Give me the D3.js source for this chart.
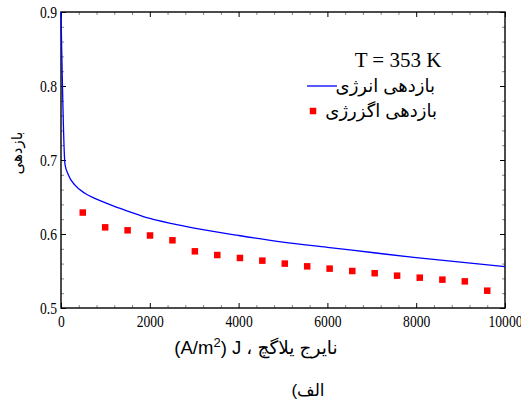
<!DOCTYPE html>
<html>
<head>
<meta charset="utf-8">
<script src="https://cdn.jsdelivr.net/npm/d3@7"></script>
<style>
  body { margin: 0; background: #fff; }
  svg { display: block; }
  .serif { font-family: "Liberation Serif", "Times New Roman", "DejaVu Serif", serif; }
  .fa { font-family: "Liberation Sans", Arial, "DejaVu Sans", sans-serif; }
</style>
</head>
<body>
<div class="container"></div>
<script>
// بازدهی انرژی - خط پیوسته (J, efficiency)
const energyJ = [0, 90, 164, 315, 540, 840, 1216, 1500, 2000, 2500, 3000, 4000, 5000, 6000, 7000, 8000, 9000, 10000];
const energyEff = [0.9, 0.694, 0.680, 0.666, 0.655, 0.646, 0.637, 0.631, 0.621, 0.614, 0.608, 0.598, 0.589, 0.582, 0.575, 0.568, 0.562, 0.556];

// بازدهی اگزرژی - نقاط
const exergyJ = [490, 995, 1500, 2005, 2510, 3015, 3520, 4030, 4535, 5040, 5545, 6050, 6560, 7065, 7570, 8080, 8590, 9095, 9600];
const exergyEff = [0.629, 0.609, 0.605, 0.598, 0.5915, 0.5766, 0.5716, 0.5676, 0.564, 0.560, 0.5563, 0.5532, 0.550, 0.547, 0.5437, 0.541, 0.5383, 0.536, 0.5234];

const xTicks = [0, 2000, 4000, 6000, 8000, 10000];
const yTicks = [0.5, 0.6, 0.7, 0.8, 0.9];

const width = 521, height = 403;
const mLeft = 61, mRight = 505, mTop = 12, mBottom = 308;

const svg = d3.select(".container")
    .append("svg")
    .attr("width", width)
    .attr("height", height);

const x = d3.scaleLinear().domain([0, 10000]).range([mLeft, mRight]);
const y = d3.scaleLinear().domain([0.5, 0.9]).range([mBottom, mTop]);

// ticks فرعی
const xMinor = d3.range(0, 10001, 400).filter(v => v % 2000 !== 0);
const yMinor = d3.range(0.5, 0.9001, 0.02).filter(v => Math.abs(v * 10 - Math.round(v * 10)) > 1e-6);

function styleAxis(g) {
    g.select(".domain").remove();
    g.selectAll(".tick line").attr("stroke", "#000").attr("stroke-width", 1);
}

// محور پایین
const gx = svg.append("g")
    .attr("transform", `translate(0,${mBottom})`)
    .call(d3.axisBottom(x).tickValues(xTicks).tickFormat(d3.format("d")).tickSizeInner(-5).tickSizeOuter(0).tickPadding(8))
    .call(styleAxis)
    .attr("font-family", null);
gx.selectAll("text")
    .attr("class", "serif")
    .attr("font-size", 16)
    .attr("fill", "#000")
    .attr("transform", "scale(0.85,1)");

// محور چپ
const gy = svg.append("g")
    .attr("transform", `translate(${mLeft},0)`)
    .call(d3.axisLeft(y).tickValues(yTicks).tickFormat(d3.format(".1f")).tickSizeInner(-5).tickSizeOuter(0).tickPadding(4))
    .call(styleAxis)
    .attr("font-family", null);
gy.selectAll("text")
    .attr("class", "serif")
    .attr("font-size", 16)
    .attr("fill", "#000")
    .attr("x", -4 / 0.85)
    .attr("transform", "scale(0.85,1)");

// محور بالا و راست (بدون برچسب)
svg.append("g")
    .attr("transform", `translate(0,${mTop})`)
    .call(d3.axisTop(x).tickValues(xTicks).tickFormat("").tickSizeInner(-5).tickSizeOuter(0))
    .call(styleAxis);
svg.append("g")
    .attr("transform", `translate(${mRight},0)`)
    .call(d3.axisRight(y).tickValues(yTicks).tickFormat("").tickSizeInner(-5).tickSizeOuter(0))
    .call(styleAxis);

// ticks فرعی روی چهار طرف
[[d3.axisBottom, mBottom], [d3.axisTop, mTop]].forEach(([ax, pos]) => {
    svg.append("g")
        .attr("transform", `translate(0,${pos})`)
        .call(ax(x).tickValues(xMinor).tickFormat("").tickSizeInner(-3).tickSizeOuter(0))
        .call(g => g.select(".domain").remove())
        .selectAll("line").attr("stroke", "#888");
});
[[d3.axisLeft, mLeft], [d3.axisRight, mRight]].forEach(([ax, pos]) => {
    svg.append("g")
        .attr("transform", `translate(${pos},0)`)
        .call(ax(y).tickValues(yMinor).tickFormat("").tickSizeInner(-3).tickSizeOuter(0))
        .call(g => g.select(".domain").remove())
        .selectAll("line").attr("stroke", "#888");
});

// قاب
svg.append("rect")
    .attr("x", mLeft)
    .attr("y", mTop)
    .attr("width", mRight - mLeft)
    .attr("height", mBottom - mTop)
    .attr("fill", "none")
    .attr("stroke", "#000")
    .attr("stroke-width", 1.4);

// خط بازدهی انرژی
const line = d3.line()
    .x((d, i) => x(energyJ[i]))
    .y(d => y(d))
    .curve(d3.curveMonotoneX);

svg.append("path")
    .datum(energyEff)
    .attr("d", line)
    .attr("fill", "none")
    .attr("stroke", "#0000ff")
    .attr("stroke-width", 1.3);

// نقاط بازدهی اگزرژی
const sq = 6.5;
svg.append("g")
    .selectAll("rect")
    .data(exergyEff)
    .join("rect")
    .attr("x", (d, i) => x(exergyJ[i]) - sq / 2)
    .attr("y", d => y(d) - sq / 2)
    .attr("width", sq)
    .attr("height", sq)
    .attr("fill", "#ff0000");

// راهنما
svg.append("text")
    .attr("class", "serif")
    .attr("x", 398)
    .attr("y", 66.5)
    .attr("text-anchor", "middle")
    .attr("font-size", 21)
    .text("T = 353 K");

svg.append("line")
    .attr("x1", 307).attr("x2", 337)
    .attr("y1", 86).attr("y2", 86)
    .attr("stroke", "#0000ff")
    .attr("stroke-width", 1.3);

svg.append("text")
    .attr("class", "fa")
    .attr("x", 435)
    .attr("y", 92)
    .attr("text-anchor", "end")
    .attr("font-size", 18)
    .text("بازدهی انرژی");

svg.append("rect")
    .attr("x", 313 - sq / 2)
    .attr("y", 111 - sq / 2)
    .attr("width", sq)
    .attr("height", sq)
    .attr("fill", "#ff0000");

svg.append("text")
    .attr("class", "fa")
    .attr("x", 437)
    .attr("y", 117)
    .attr("text-anchor", "end")
    .attr("font-size", 18)
    .text("بازدهی اگزرژی");

// برچسب محور y
svg.append("text")
    .attr("class", "fa")
    .attr("transform", "translate(22,153) rotate(-90)")
    .attr("text-anchor", "middle")
    .attr("font-size", 15)
    .text("بازدهی");

// برچسب محور x
const xl = svg.append("text")
    .attr("class", "fa")
    .attr("x", 256)
    .attr("y", 354)
    .attr("text-anchor", "middle")
    .attr("font-size", 18.5)
    .attr("direction", "ltr");
xl.append("tspan").text("(A/m");
xl.append("tspan").attr("font-size", 13).attr("dy", -7).text("2");
xl.append("tspan").attr("dy", 7).text(") J \u060C \u2067نایرج  یلاگچ\u2069");

// زیرنویس
svg.append("text")
    .attr("class", "fa")
    .attr("x", 308)
    .attr("y", 396)
    .attr("text-anchor", "middle")
    .attr("font-size", 17)
    .attr("direction", "rtl")
    .text("الف)");
</script>
</body>
</html>
